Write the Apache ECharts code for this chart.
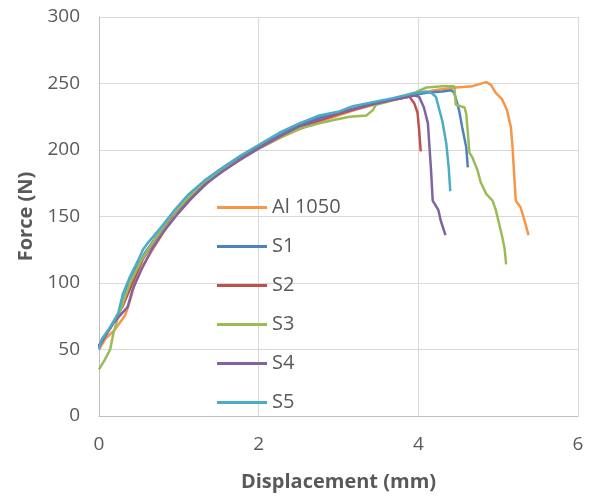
<!DOCTYPE html>
<html>
<head>
<meta charset="utf-8" />
<script src="https://cdn.jsdelivr.net/npm/echarts@6/dist/echarts.min.js"></script>
<style>
  html, body { margin: 0; padding: 0; background: #fff; }
  #chart { width: 591px; height: 497px; }
</style>
</head>
<body>
<div id="chart"></div>
<script>
// displacement (mm), force (N) pairs
const al1050 = [[0,50],[0.08,58],[0.2,65],[0.33,76],[0.39,87],[0.45,100],[0.55,113],[0.68,126],[0.85,142],[1.0,153],[1.2,167],[1.45,180],[1.75,192],[2.0,201],[2.3,210],[2.6,218],[2.9,224],[3.2,230],[3.5,235],[3.8,239],[4.0,242],[4.2,245],[4.47,247],[4.68,248],[4.85,251],[4.91,249],[4.97,243],[5.05,238],[5.11,230],[5.16,217],[5.18,202],[5.2,182],[5.22,162],[5.28,157],[5.33,147],[5.38,136]];
const s1 = [[0,52],[0.04,58],[0.14,66],[0.27,80],[0.36,97],[0.46,110],[0.58,123],[0.78,140],[0.96,154],[1.15,165],[1.35,176],[1.55,185],[1.8,195],[2.0,202],[2.26,211],[2.5,219],[2.8,225],[3.0,228],[3.3,233],[3.6,237],[3.9,241],[4.1,243],[4.3,244],[4.41,245],[4.45,243],[4.51,230],[4.55,217],[4.6,202],[4.62,187]];
const s2 = [[0,53],[0.05,58],[0.15,67],[0.3,83],[0.42,100],[0.55,118],[0.75,137],[0.95,153],[1.2,168],[1.5,183],[1.8,194],[2.0,202],[2.3,211],[2.6,219],[3.0,227],[3.4,234],[3.7,238],[3.89,240],[3.95,235],[3.99,228],[4.01,215],[4.03,199]];
const s3 = [[0,35],[0.07,42],[0.14,50],[0.18,62],[0.24,75],[0.33,90],[0.39,100],[0.53,117],[0.7,133],[0.9,150],[1.1,163],[1.3,175],[1.55,185],[1.8,194],[2.0,201],[2.25,209],[2.51,216],[2.76,220],[2.97,223],[3.14,225],[3.35,226],[3.43,230],[3.47,234],[3.6,236],[3.8,240],[3.95,243],[4.1,247],[4.3,248],[4.45,248],[4.47,234],[4.58,232],[4.6,227],[4.62,213],[4.64,198],[4.68,194],[4.74,185],[4.78,176],[4.85,167],[4.93,162],[4.97,155],[5.01,145],[5.05,135],[5.08,126],[5.1,114]];
const s4 = [[0,52],[0.05,57],[0.18,70],[0.36,82],[0.42,95],[0.53,110],[0.66,125],[0.8,138],[0.97,151],[1.15,163],[1.35,175],[1.55,184],[1.8,194],[2.02,202],[2.26,210],[2.51,218],[2.76,223],[3.01,228],[3.4,234],[3.7,238],[3.95,241],[4.01,240],[4.07,232],[4.12,220],[4.14,202],[4.16,184],[4.18,162],[4.25,155],[4.28,147],[4.34,136]];
const s5 = [[0,50],[0.03,57],[0.12,65],[0.24,77],[0.3,92],[0.39,105],[0.49,117],[0.55,125],[0.61,130],[0.78,142],[0.95,155],[1.11,166],[1.32,177],[1.53,186],[1.78,196],[2.01,204],[2.26,213],[2.51,220],[2.76,226],[3.01,229],[3.18,233],[3.43,236],[3.68,239],[3.89,242],[3.99,243],[4.1,244],[4.16,243],[4.22,240],[4.3,222],[4.35,205],[4.38,187],[4.4,169]];

const seriesNames = ["Al 1050", "S1", "S2", "S3", "S4", "S5"];
const seriesData = [al1050, s1, s2, s3, s4, s5];
const colors = ["#F79646", "#4F81BD", "#C0504D", "#9BBB59", "#8064A2", "#4BACC6"];

const chart = echarts.init(document.getElementById("chart"));
const font = "'Open Sans', 'Liberation Sans', sans-serif";

chart.setOption({
  animation: false,
  color: colors,
  grid: { left: 99, right: 13, top: 17, bottom: 81 },
  legend: {
    orient: "vertical",
    left: 212,
    top: 183,
    icon: "rect",
    itemWidth: 50,
    itemHeight: 3,
    itemGap: 0,
    textStyle: { fontFamily: font, fontSize: 20, color: "#595959", lineHeight: 39 },
    data: seriesNames,
  },
  xAxis: {
    type: "value",
    min: 0,
    max: 6,
    interval: 2,
    name: "Displacement (mm)",
    nameLocation: "middle",
    nameGap: 56,
    nameTextStyle: { fontFamily: font, fontSize: 20, fontWeight: "bold", color: "#595959" },
    axisLine: { lineStyle: { color: "#bfbfbf" } },
    axisTick: { show: false },
    axisLabel: { fontFamily: font, fontSize: 19, color: "#595959", margin: 19 },
    splitLine: { lineStyle: { color: "#d9d9d9" } },
  },
  yAxis: {
    type: "value",
    min: 0,
    max: 300,
    interval: 50,
    name: "Force (N)",
    nameLocation: "middle",
    nameGap: 61,
    nameTextStyle: { fontFamily: font, fontSize: 20, fontWeight: "bold", color: "#595959" },
    axisLine: { show: true, lineStyle: { color: "#bfbfbf" } },
    axisTick: { show: false },
    axisLabel: { fontFamily: font, fontSize: 19, color: "#595959", margin: 19 },
    splitLine: { lineStyle: { color: "#d9d9d9" } },
  },
  series: seriesNames.map((name, i) => ({
    name: name,
    type: "line",
    data: seriesData[i],
    showSymbol: false,
    lineStyle: { width: 2.5 },
  })),
});
</script>
</body>
</html>
